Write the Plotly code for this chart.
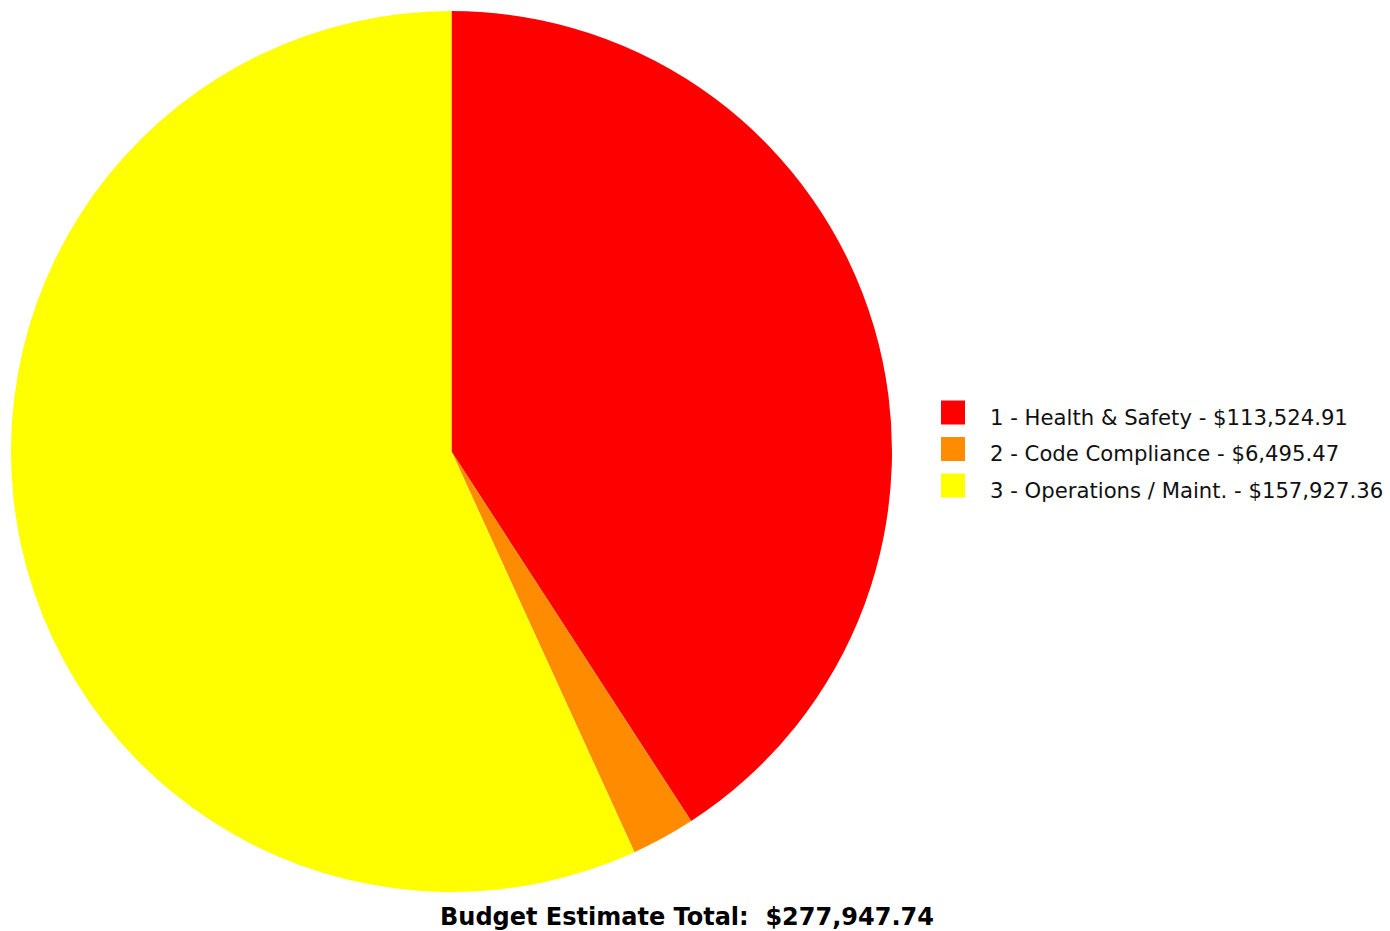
import plotly.graph_objects as go

W, H = 1390, 931

categories = ["1 - Health & Safety", "2 - Code Compliance", "3 - Operations / Maint."]
values = [113524.91, 6495.47, 157927.36]
colors = ["#FF0000", "#FF8C00", "#FFFF00"]
title_text = "Budget Estimate Total:\u00a0 $277,947.74"

labels = [f"{c} - ${v:,.2f}" for c, v in zip(categories, values)]

fig = go.Figure()
fig.add_trace(go.Pie(
    labels=labels,
    values=values,
    marker=dict(colors=colors, line=dict(width=0)),
    sort=False,
    direction="clockwise",
    rotation=0,
    textinfo="none",
    hoverinfo="label+percent",
    showlegend=False,
    domain=dict(x=[11 / W, 892 / W], y=[1 - 892 / H, 1 - 11 / H]),
))

font_family = "DejaVu Sans, Verdana, sans-serif"
shapes = []
annotations = []
row_y = [412.5, 449, 485.5]
for i, (lab, col) in enumerate(zip(labels, colors)):
    yc = row_y[i]
    shapes.append(dict(type="rect", xref="paper", yref="paper",
                       x0=941 / W, x1=965 / W,
                       y0=1 - (yc + 12) / H, y1=1 - (yc - 12) / H,
                       fillcolor=col, line=dict(width=0)))
    annotations.append(dict(text=lab, xref="paper", yref="paper",
                            x=988 / W, y=1 - (yc + 4.5) / H,
                            xanchor="left", yanchor="middle", showarrow=False,
                            font=dict(family=font_family, size=21.2, color="#111111")))

annotations.append(dict(text=f"<b>{title_text}</b>", xref="paper", yref="paper",
                        x=686.5 / W, y=1 - 917 / H, xanchor="center", yanchor="middle",
                        showarrow=False,
                        font=dict(family=font_family, size=24, color="#000000")))

fig.update_layout(
    width=W, height=H,
    margin=dict(l=0, r=0, t=0, b=0),
    paper_bgcolor="white",
    plot_bgcolor="white",
    shapes=shapes,
    annotations=annotations,
)

fig.write_html("out.html")
